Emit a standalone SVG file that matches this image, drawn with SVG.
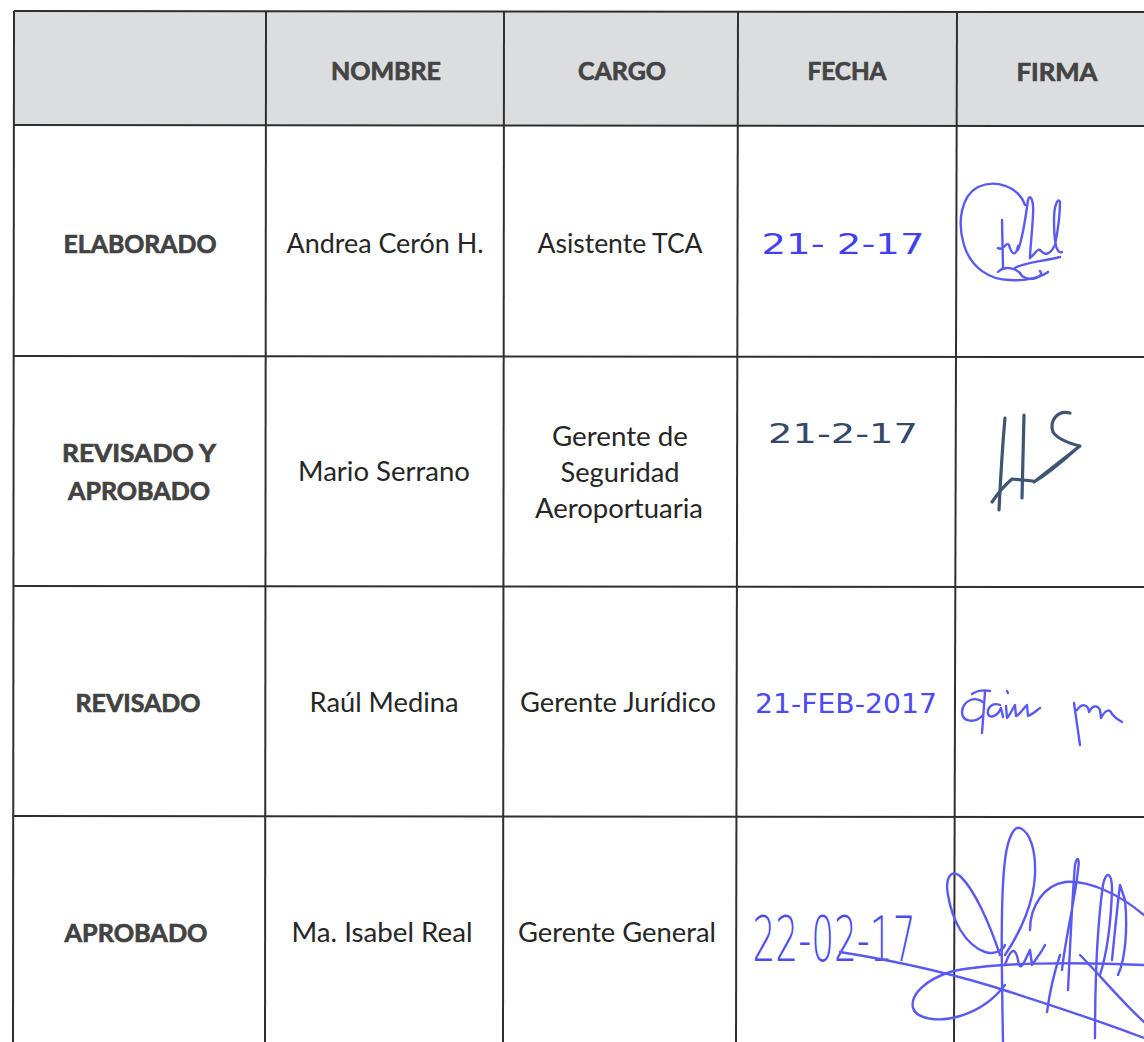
<svg xmlns="http://www.w3.org/2000/svg" width="1144" height="1042" viewBox="0 0 1144 1042">
<style>
.bg{fill:#ffffff}
.hdr{fill:#dcdddf}
.grid line{stroke:#2f2f2f;stroke-width:2}
.th{font-family:Lato,"Liberation Sans",sans-serif;font-weight:700;font-size:24px;fill:#444444;stroke:#444444;stroke-width:0.7;text-anchor:middle}
.lb{font-family:Lato,"Liberation Sans",sans-serif;font-weight:700;font-size:25px;fill:#424242;stroke:#424242;stroke-width:0.7;text-anchor:middle}
.tx{font-family:Lato,"Liberation Sans",sans-serif;font-size:26px;fill:#262626;text-anchor:middle}
.hw{font-family:"DejaVu Sans","Liberation Sans",sans-serif;font-size:28px;fill:#4b4bf0;text-anchor:middle}
.sig{fill:none;stroke:#5a5af2;stroke-width:2.4;stroke-linecap:round;stroke-linejoin:round}
.sign{fill:none;stroke:#3e5573;stroke-width:3.2;stroke-linecap:round;stroke-linejoin:round}
</style>
<rect class="bg" x="0" y="0" width="1144" height="1042"/>
<rect class="hdr" x="14" y="11" width="1130" height="114"/>

<g id="grid" class="grid">
  <line x1="14" y1="11" x2="1144" y2="12"/>
  <line x1="14" y1="125" x2="1144" y2="126"/>
  <line x1="14" y1="356" x2="1144" y2="357"/>
  <line x1="14" y1="586" x2="1144" y2="587"/>
  <line x1="14" y1="816" x2="1144" y2="817"/>
  <line x1="14" y1="11" x2="13" y2="1042"/>
  <line x1="266" y1="11" x2="265" y2="1042"/>
  <line x1="504" y1="11" x2="503" y2="1042"/>
  <line x1="738" y1="11" x2="736" y2="1042"/>
  <line x1="957" y1="11" x2="954" y2="1042"/>
</g>

<g id="header">
  <text class="th" x="386" y="80" textLength="110" lengthAdjust="spacingAndGlyphs">NOMBRE</text>
  <text class="th" x="622" y="80" textLength="88" lengthAdjust="spacingAndGlyphs">CARGO</text>
  <text class="th" x="847" y="80" textLength="79" lengthAdjust="spacingAndGlyphs">FECHA</text>
  <text class="th" x="1057" y="81" textLength="81" lengthAdjust="spacingAndGlyphs">FIRMA</text>
</g>

<g id="row-elaborado">
  <text class="lb" x="140" y="253" textLength="153" lengthAdjust="spacingAndGlyphs">ELABORADO</text>
  <text class="tx" x="385" y="253" textLength="197" lengthAdjust="spacingAndGlyphs">Andrea Cerón H.</text>
  <text class="tx" x="620" y="253" textLength="165" lengthAdjust="spacingAndGlyphs">Asistente TCA</text>
  <text class="hw" x="843" y="254" textLength="163" lengthAdjust="spacingAndGlyphs" style="fill:#4040ee">21- 2-17</text>
  <g id="sig-elaborado">
    <path class="sig" d="M1025,205 C1018,186 995,179 978,187 C961,196 957,222 964,245 C971,268 990,280 1010,280 C1025,281 1040,278 1048,272"/>
    <path class="sig" d="M1002,220 L1003,268 M998,248 C1003,252 1006,241 1009,245 C1012,256 1016,256 1018,246"/>
    <path class="sig" d="M1018,250 C1022,240 1026,215 1028,200 C1030,193 1034,200 1033,215 C1032,235 1030,250 1030,258 C1034,255 1038,248 1040,250"/>
    <path class="sig" d="M1040,250 C1045,256 1050,255 1055,245 C1058,230 1060,210 1060,202 C1058,197 1054,205 1054,220 C1054,240 1056,255 1062,252"/>
    <path class="sig" d="M1015,268 C1025,262 1040,262 1060,257 M998,272 C1005,265 1018,268 1022,276 C1030,282 1045,277 1040,271"/>
  </g>
</g>

<g id="row-revisado-aprobado">
  <text class="lb" x="139" y="462" textLength="154" lengthAdjust="spacingAndGlyphs">REVISADO  Y</text>
  <text class="lb" x="139" y="500" textLength="142" lengthAdjust="spacingAndGlyphs">APROBADO</text>
  <text class="tx" x="384" y="481" textLength="172" lengthAdjust="spacingAndGlyphs">Mario Serrano</text>
  <text class="tx" x="620" y="446" textLength="136" lengthAdjust="spacingAndGlyphs">Gerente de</text>
  <text class="tx" x="620" y="482" textLength="119" lengthAdjust="spacingAndGlyphs">Seguridad</text>
  <text class="tx" x="619" y="518" textLength="168" lengthAdjust="spacingAndGlyphs">Aeroportuaria</text>
  <text class="hw" x="843" y="443" textLength="150" lengthAdjust="spacingAndGlyphs" style="font-size:26px;fill:#34496a">21-2-17</text>
  <g id="sig-revisado-aprobado">
    <path class="sign" stroke-width="4.5" d="M1005,418 C1003,440 1001,470 999,510"/>
    <path class="sign" d="M992,502 C998,493 1005,485 1012,479 L1033,481"/>
    <path class="sign" d="M1024,415 L1022,498"/>
    <path class="sign" d="M1070,413 C1058,410 1049,420 1053,432 C1058,440 1072,444 1080,446 L1034,482 C1050,472 1066,458 1076,449"/>
  </g>
</g>

<g id="row-revisado">
  <text class="lb" x="138" y="712" textLength="125" lengthAdjust="spacingAndGlyphs">REVISADO</text>
  <text class="tx" x="384" y="712" textLength="149" lengthAdjust="spacingAndGlyphs">Raúl Medina</text>
  <text class="tx" x="618" y="712" textLength="196" lengthAdjust="spacingAndGlyphs">Gerente Jurídico</text>
  <text class="hw" x="846" y="713" textLength="182" lengthAdjust="spacingAndGlyphs" style="font-size:26px">21-FEB-2017</text>
  <g id="sig-revisado">
    <path class="sig" d="M983,702 C975,696 963,700 962,712 C962,722 975,724 983,715 M972,694 C978,690 985,690 990,691 M985,692 L982,733"/>
    <path class="sig" d="M1000,705 C992,702 987,708 988,714 C990,719 998,716 1001,708 L1003,717"/>
    <path class="sig" d="M1006,706 L1007,718 C1010,715 1013,708 1015,705 L1016,716 C1020,715 1024,707 1027,705 L1028,716 C1033,714 1037,710 1040,708 M1007,691 L1008,693"/>
    <path class="sig" d="M1074,703 L1080,745 M1077,710 C1082,703 1088,704 1089,712 C1092,706 1097,704 1100,710 L1101,718 C1105,710 1110,708 1112,714 C1115,718 1118,720 1122,722"/>
  </g>
</g>

<g id="row-aprobado">
  <text class="lb" x="136" y="942" textLength="143" lengthAdjust="spacingAndGlyphs">APROBADO</text>
  <text class="tx" x="382" y="942" textLength="181" lengthAdjust="spacingAndGlyphs">Ma. Isabel Real</text>
  <text class="tx" x="617" y="942" textLength="198" lengthAdjust="spacingAndGlyphs">Gerente General</text>
  <text class="hw" x="834" y="961" textLength="163" lengthAdjust="spacingAndGlyphs" style="font-size:62px;font-weight:200">22-02-17</text>
  <g id="sig-aprobado">
    <path class="sig" d="M840,952 C890,960 955,974 1010,992 C1060,1008 1110,1025 1144,1038"/>
    <path class="sig" d="M1144,965 C1080,962 990,962 950,972 C925,980 910,995 913,1008 C917,1020 940,1022 960,1016 C980,1010 995,998 1005,985"/>
    <path class="sig" d="M1000,955 C990,925 975,890 960,876 C950,868 945,880 948,895 C952,920 965,945 985,952 C995,955 1003,950 1005,945"/>
    <path class="sig" d="M1003,1042 C1002,980 1000,900 1005,860 C1008,835 1015,826 1020,828 C1030,832 1036,850 1035,875 C1034,900 1022,930 1005,955"/>
    <path class="sig" d="M1030,930 C1030,905 1045,885 1065,882 C1090,880 1120,895 1144,915"/>
    <path class="sig" d="M1005,965 C1010,950 1015,945 1018,960 C1020,975 1025,960 1030,950 L1032,965 C1035,960 1040,955 1045,945"/>
    <path class="sig" d="M1068,990 C1070,950 1072,900 1075,865 C1077,855 1080,858 1078,870 C1075,900 1065,940 1062,970 M1047,1012 C1050,990 1055,970 1060,955"/>
    <path class="sig" d="M1095,1038 C1095,980 1098,920 1103,885 C1106,870 1112,872 1112,890 C1111,920 1108,950 1100,975 M1112,960 C1115,930 1118,900 1120,885 L1125,900 C1128,930 1125,960 1118,975"/>
    <path class="sig" d="M1080,955 C1100,975 1120,1000 1144,1022"/>
  </g>
</g>
</svg>
